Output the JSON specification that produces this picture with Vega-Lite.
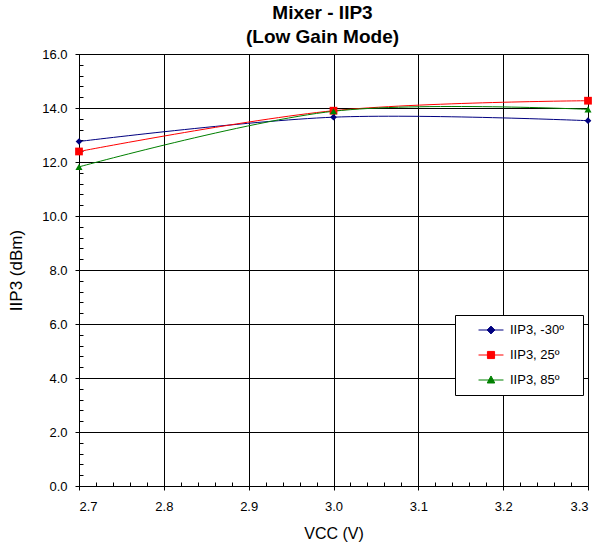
{
  "$schema": "https://vega.github.io/schema/vega-lite/v6.json",
  "width": 509,
  "height": 432,
  "autosize": {"type": "none"},
  "padding": {"left": 79, "top": 54, "right": 10, "bottom": 62},
  "background": "white",
  "title": {
    "text": ["Mixer - IIP3", "(Low Gain Mode)"],
    "font": "Liberation Sans",
    "fontSize": 19,
    "fontWeight": "bold",
    "color": "black",
    "anchor": "middle",
    "dx": -11,
    "offset": 1,
    "lineHeight": 24
  },
  "config": {
    "view": {"stroke": "black", "strokeWidth": 1},
    "font": "Liberation Sans"
  },
  "data": {
    "values": [
      {"vcc": 2.7, "iip3": 12.76, "series": "IIP3, -30º"},
      {"vcc": 3.0, "iip3": 13.66, "series": "IIP3, -30º"},
      {"vcc": 3.3, "iip3": 13.53, "series": "IIP3, -30º"},
      {"vcc": 2.7, "iip3": 12.39, "series": "IIP3, 25º"},
      {"vcc": 3.0, "iip3": 13.9, "series": "IIP3, 25º"},
      {"vcc": 3.3, "iip3": 14.27, "series": "IIP3, 25º"},
      {"vcc": 2.7, "iip3": 11.82, "series": "IIP3, 85º"},
      {"vcc": 3.0, "iip3": 13.88, "series": "IIP3, 85º"},
      {"vcc": 3.3, "iip3": 13.95, "series": "IIP3, 85º"}
    ]
  },
  "layer": [
    {
      "mark": {"type": "line", "interpolate": "catmull-rom", "strokeWidth": 1},
      "encoding": {
        "x": {
          "field": "vcc",
          "type": "quantitative",
          "scale": {"domain": [2.7, 3.3], "nice": false, "zero": false},
          "axis": {
            "orient": "bottom",
            "values": [2.7, 2.8, 2.9, 3.0, 3.1, 3.2, 3.3],
            "format": ".1f",
            "grid": true,
            "gridColor": "black",
            "gridOpacity": 1,
            "gridWidth": 1,
            "domain": false,
            "tickColor": "black",
            "tickSize": 4,
            "labelFont": "Liberation Sans",
            "labelFontSize": 13,
            "labelColor": "black",
            "labelPadding": 10,
            "title": "VCC (V)",
            "titleFont": "Liberation Sans",
            "titleFontSize": 16,
            "titleFontWeight": "normal",
            "titleColor": "black",
            "titlePadding": 12
          }
        },
        "y": {
          "field": "iip3",
          "type": "quantitative",
          "scale": {"domain": [0, 16], "nice": false, "zero": true},
          "axis": {
            "orient": "left",
            "values": [0, 2, 4, 6, 8, 10, 12, 14, 16],
            "format": ".1f",
            "grid": true,
            "gridColor": "black",
            "gridOpacity": 1,
            "gridWidth": 1,
            "domain": false,
            "tickColor": "black",
            "tickSize": 4,
            "labelFont": "Liberation Sans",
            "labelFontSize": 13,
            "labelColor": "black",
            "labelPadding": 8,
            "title": "IIP3 (dBm)",
            "titleFont": "Liberation Sans",
            "titleFontSize": 17,
            "titleFontWeight": "normal",
            "titleColor": "black",
            "titlePadding": 16
          }
        },
        "color": {
          "field": "series",
          "type": "nominal",
          "scale": {
            "domain": ["IIP3, -30º", "IIP3, 25º", "IIP3, 85º"],
            "range": ["#000080", "#FF0000", "#008000"]
          },
          "legend": {
            "title": null,
            "orient": "none",
            "legendX": 376,
            "legendY": 261,
            "fillColor": "white",
            "strokeColor": "black",
            "padding": 8,
            "rowPadding": 11,
            "symbolSize": 169,
            "symbolOffset": 21,
            "symbolStrokeWidth": 1,
            "labelFont": "Liberation Sans",
            "labelFontSize": 13,
            "labelColor": "black",
            "labelOffset": 12,
            "labelExpr": "datum.label + '\u00a0\u00a0\u00a0\u200b'",
            "encode": {
              "symbols": {
                "update": {
                  "shape": {"signal": "datum.value === 'IIP3, -30º' ? 'M-1.92,0H1.92M0,-0.6L0.6,0L0,0.6L-0.6,0Z' : datum.value === 'IIP3, 25º' ? 'M-1.92,0H1.92M-0.55,-0.55H0.55V0.55H-0.55Z' : 'M-1.92,0H1.92M0,-0.62L0.58,0.46L-0.58,0.46Z'"},
                  "fill": {"scale": "color", "field": "value"},
                  "stroke": {"scale": "color", "field": "value"},
                  "strokeWidth": {"value": 1},
                  "opacity": {"value": 1}
                }
              }
            }
          }
        }
      }
    },
    {
      "transform": [{"filter": "datum.series === 'IIP3, -30º'"}],
      "mark": {"type": "point", "filled": true, "size": 45, "opacity": 1, "shape": "diamond", "color": "#000080"},
      "encoding": {
        "x": {
          "field": "vcc",
          "type": "quantitative",
          "axis": {
            "orient": "bottom",
            "values": [2.72, 2.74, 2.76, 2.78, 2.82, 2.84, 2.86, 2.88, 2.92, 2.94, 2.96, 2.98, 3.02, 3.04, 3.06, 3.08, 3.12, 3.14, 3.16, 3.18, 3.22, 3.24, 3.26, 3.28],
            "labels": false,
            "grid": false,
            "domain": false,
            "tickColor": "black",
            "tickSize": 4,
            "offset": -4,
            "title": null
          }
        },
        "y": {
          "field": "iip3",
          "type": "quantitative",
          "axis": {
            "orient": "left",
            "values": [0.4, 0.8, 1.2, 1.6, 2.4, 2.8, 3.2, 3.6, 4.4, 4.8, 5.2, 5.6, 6.4, 6.8, 7.2, 7.6, 8.4, 8.8, 9.2, 9.6, 10.4, 10.8, 11.2, 11.6, 12.4, 12.8, 13.2, 13.6, 14.4, 14.8, 15.2, 15.6],
            "labels": false,
            "grid": false,
            "domain": false,
            "tickColor": "black",
            "tickSize": 4,
            "offset": -4,
            "title": null
          }
        }
      }
    },
    {
      "transform": [{"filter": "datum.series === 'IIP3, 25º'"}],
      "mark": {"type": "point", "filled": true, "size": 60, "opacity": 1, "shape": "square", "color": "#FF0000"},
      "encoding": {
        "x": {"field": "vcc", "type": "quantitative", "axis": null},
        "y": {"field": "iip3", "type": "quantitative", "axis": null}
      }
    },
    {
      "transform": [{"filter": "datum.series === 'IIP3, 85º'"}],
      "mark": {"type": "point", "filled": true, "size": 50, "opacity": 1, "shape": "triangle-up", "color": "#008000"},
      "encoding": {
        "x": {"field": "vcc", "type": "quantitative", "axis": null},
        "y": {"field": "iip3", "type": "quantitative", "axis": null}
      }
    }
  ],
  "resolve": {"axis": {"x": "independent", "y": "independent"}}
}
